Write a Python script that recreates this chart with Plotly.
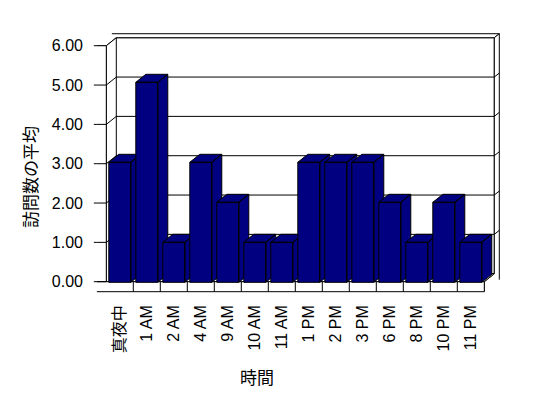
import plotly.graph_objects as go

# ---------------- data ----------------
categories = ["真夜中", "1 AM", "2 AM", "4 AM", "9 AM", "10 AM", "11 AM",
              "1 PM", "2 PM", "3 PM", "6 PM", "8 PM", "10 PM", "11 PM"]
avg_visits = [3, 5, 1, 3, 2, 1, 1, 3, 3, 3, 2, 1, 2, 1]
y_tick_values = [0, 1, 2, 3, 4, 5, 6]
x_title = "時間"
y_title = "訪問数の平均"

# ---------------- layout geometry (pixels) ----------------
W, H = 548, 398
PL, PR, PT, PB = 92, 510, 28, 296          # plot area
CAT_PX = 27.0                               # pixels per category
CAT0_PX = 106.3                             # pixel of x = -0.5
ZERO_F, UNIT_F = 281.7, 39.33               # frame / tick axis
ZERO_B, UNIT_B = 282.3, 40.0                # bar axis
DEPTH_PX = (10.0, 8.0)                      # oblique depth offset

xr = [-0.5 + (PL - CAT0_PX) / CAT_PX, -0.5 + (PR - CAT0_PX) / CAT_PX]
yr_f = [(ZERO_F - PB) / UNIT_F, (ZERO_F - PT) / UNIT_F]
yr_b = [(ZERO_B - PB) / UNIT_B, (ZERO_B - PT) / UNIT_B]

DX = DEPTH_PX[0] / CAT_PX
DYF = DEPTH_PX[1] / UNIT_F
DYB = DEPTH_PX[1] / UNIT_B

N = len(categories)
YMAX = max(y_tick_values)
XL, XR = -0.5, N - 0.5
WT = 0.35            # left wall thickness (category units)
FT = 10 / UNIT_F     # floor thickness (value units)
BT = 1.5             # depth incl. back wall thickness

NAVY = "#000080"


def P(x, v, z, dy=DYF):
    return (x + z * DX, v + z * dy)


def poly(points, dy=DYF):
    xs, ys = [], []
    for (x, v, z) in points:
        px, py = P(x, v, z, dy)
        xs.append(px)
        ys.append(py)
    return xs, ys


fig = go.Figure()


def add_face(pts, fill="white", yaxis="y", dy=DYF):
    xs, ys = poly(pts, dy)
    fig.add_trace(go.Scatter(x=xs, y=ys, mode="lines", fill="toself",
                             fillcolor=fill, line=dict(color="black", width=1),
                             hoverinfo="skip", showlegend=False, yaxis=yaxis))


def add_lines(segs, yaxis="y", dy=DYF):
    xs, ys = [], []
    for a, b in segs:
        for p in (a, b):
            px, py = P(*p, dy)
            xs.append(px)
            ys.append(py)
        xs.append(None)
        ys.append(None)
    fig.add_trace(go.Scatter(x=xs, y=ys, mode="lines",
                             line=dict(color="black", width=1),
                             hoverinfo="skip", showlegend=False, yaxis=yaxis))


# back wall inner face
add_face([(XL, 0, 1), (XR, 0, 1), (XR, YMAX, 1), (XL, YMAX, 1)])
# top of walls (L-shaped)
add_face([(XL - WT, YMAX, 0), (XL, YMAX, 0), (XL, YMAX, 1), (XR, YMAX, 1),
          (XR, YMAX, BT), (XL - WT, YMAX, BT)])
# right side face of back wall + floor slab
add_face([(XR, -FT, 0), (XR, 0, 0), (XR, 0, 1), (XR, YMAX, 1),
          (XR, YMAX, BT), (XR, -FT, BT)])
# left wall inner face
add_face([(XL, 0, 0), (XL, YMAX, 0), (XL, YMAX, 1), (XL, 0, 1)])
# left wall front face
add_face([(XL - WT, 0, 0), (XL, 0, 0), (XL, YMAX, 0), (XL - WT, YMAX, 0)])
# floor top
add_face([(XL, 0, 0), (XR, 0, 0), (XR, 0, 1), (XL, 0, 1)])
# floor front
add_face([(XL - WT, -FT, 0), (XR, -FT, 0), (XR, 0, 0), (XL - WT, 0, 0)])

grid_segs = []
for v in y_tick_values[1:-1]:
    grid_segs.append(((XL, v, 1), (XR, v, 1)))          # back wall
    grid_segs.append(((XL, v, 0), (XL, v, 1)))          # left wall
    grid_segs.append(((XR, v, 1), (XR, v, BT)))         # right edge
for v in y_tick_values[:-1]:
    grid_segs.append(((XL - WT, v, 0), (XL, v, 0)))     # wall front
for v in y_tick_values:
    grid_segs.append(((XL - WT - 3 / CAT_PX, v, 0), (XL - WT, v, 0)))  # ticks
for i in range(1, N):
    grid_segs.append(((i - 0.5, -FT, 0), (i - 0.5, 0, 0)))  # floor dividers
add_lines(grid_segs)

# ---------------- bars ----------------
HALF = 0.407
for i, val in enumerate(avg_visits):
    x0, x1 = i - HALF, i + HALF
    faces = [
        [(x0, 0, 0), (x1, 0, 0), (x1, val, 0), (x0, val, 0), (x0, 0, 0)],
        [(x0, val, 0), (x1, val, 0), (x1, val, 1), (x0, val, 1), (x0, val, 0)],
        [(x1, 0, 0), (x1, 0, 1), (x1, val, 1), (x1, val, 0), (x1, 0, 0)],
    ]
    xs, ys = [], []
    for f in faces:
        fx, fy = poly(f, DYB)
        xs += fx + [None]
        ys += fy + [None]
    fig.add_trace(go.Scatter(x=xs, y=ys, mode="lines", fill="toself",
                             fillcolor=NAVY, line=dict(color="black", width=1),
                             hoverinfo="skip", showlegend=False, yaxis="y2",
                             name=categories[i]))

TICK_FONT = dict(family="Liberation Sans, Arial, Noto Sans CJK JP", size=16, color="black")
CJK_FONT = dict(family="Noto Sans CJK JP", size=17, color="black")

fig.update_layout(
    width=W, height=H,
    margin=dict(l=PL, r=W - PR, t=PT, b=H - PB, pad=0),
    paper_bgcolor="white", plot_bgcolor="white",
    showlegend=False,
    xaxis=dict(range=xr, showgrid=False, zeroline=False, showline=False,
               tickmode="array", tickvals=list(range(N)), ticktext=categories,
               tickangle=-90, ticks="", tickfont=TICK_FONT,
               ticklabelstandoff=5, fixedrange=True),
    yaxis=dict(range=yr_f, showgrid=False, zeroline=False, showline=False,
               tickmode="array", tickvals=y_tick_values, tickformat=".2f",
               ticks="", tickfont=TICK_FONT, ticklabelstandoff=8,
               fixedrange=True),
    yaxis2=dict(range=yr_b, overlaying="y", visible=False, fixedrange=True),
    annotations=[
        dict(text=y_title, xref="paper", yref="paper",
             x=(29 - PL) / (PR - PL), y=(PB - 177) / (PB - PT),
             showarrow=False, textangle=-90, font=CJK_FONT,
             xanchor="center", yanchor="middle"),
        dict(text=x_title, xref="paper", yref="paper",
             x=(257 - PL) / (PR - PL), y=(PB - 376) / (PB - PT),
             showarrow=False, font=CJK_FONT,
             xanchor="center", yanchor="middle"),
    ],
)

fig.write_html("out.html", config={"displayModeBar": False})
